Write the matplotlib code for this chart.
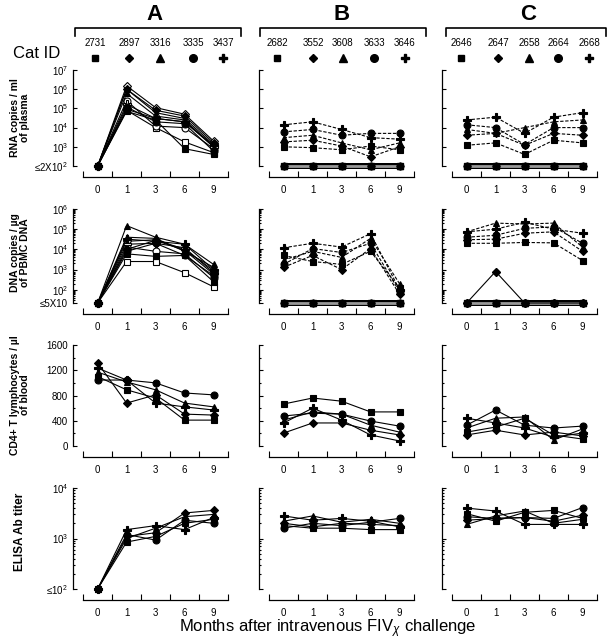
import numpy as np
import matplotlib
matplotlib.use('Agg')
import matplotlib.pyplot as plt
from matplotlib.lines import Line2D

plt.rcParams['font.family'] = ['Liberation Sans', 'DejaVu Sans']
plt.rcParams['mathtext.fontset'] = 'custom'
plt.rcParams['mathtext.rm'] = 'Liberation Sans'
plt.rcParams['mathtext.it'] = 'Liberation Sans:italic'

# x categories
months = ['0', '1', '3', '6', '9']
markers = ['s', 'D', '^', 'o', 'P']
msizes = [4.5, 4, 5, 5, 5.5]

cats_A = ['2731', '2897', '3316', '3335', '3437']
cats_B = ['2682', '3552', '3608', '3633', '3646']
cats_C = ['2646', '2647', '2658', '2664', '2668']

# plotted positions of the detection limits
rna_lod = 1e2
dna_lod = 22
elisa_lod = 1e2

# RNA copies / ml plasma (square, diamond, triangle, circle, plus)
rna_A_filled = [[1e2, 7e4, 2.5e4, 8e2, 4e2],
                [1e2, 1e6, 8e4, 4e4, 1.6e3],
                [1e2, 6e5, 4e4, 2.5e4, 1e3],
                [1e2, 1.2e5, 2e4, 1.6e4, 6e2],
                [1e2, 9e4, 3e4, 2e4, 1.2e3]]
rna_A_open = [[1e2, 8e4, 1e4, 1.8e3, 5e2],
              [1e2, 1.5e6, 1.1e5, 5e4, 2e3],
              [1e2, 1e6, 6e4, 3e4, 1.3e3],
              [1e2, 2.5e5, 1.2e4, 1e4, 8e2],
              [1e2, 1.6e5, 3e4, 2e4, 1e3]]
rna_B = [[1e3, 9e2, 7e2, 1.1e3, 7e2],
         [1.8e3, 2.2e3, 1.1e3, 3e2, 1e3],
         [3e3, 4e3, 1.6e3, 7e2, 1.6e3],
         [6e3, 8e3, 4e3, 5e3, 5e3],
         [1.4e4, 2e4, 8e3, 3e3, 2.5e3]]
rna_C = [[1.2e3, 1.6e3, 4e2, 2.2e3, 1.6e3],
         [4e3, 5e3, 1.2e3, 5e3, 4e3],
         [8e3, 5e3, 1e4, 2e4, 2.5e4],
         [1.4e4, 1e4, 1.3e3, 1e4, 1e4],
         [2.5e4, 3.5e4, 5e3, 3.5e4, 6e4]]
rna_BC_undet = [1e2, 1e2, 1e2, 1e2, 1e2]

# DNA copies / ug PBMC DNA
dna_A_filled = [[22, 6e3, 4.5e3, 5e3, 2.5e2],
                [22, 1e4, 2.8e4, 9e3, 6e2],
                [22, 1.5e5, 4e4, 1.8e4, 1.8e3],
                [22, 8e3, 2e4, 5e3, 5e2],
                [22, 3.2e4, 2.5e4, 1.8e4, 1e3]]
dna_A_open = [[22, 2.5e3, 2.5e3, 7e2, 1.4e2],
              [22, 2.5e4, 3e4, 1e4, 9e2],
              [22, 4e4, 3.5e4, 8e3, 1.3e3],
              [22, 1.3e4, 8e3, 6e3, 4e2],
              [22, 1.8e4, 2e4, 1.2e4, 7e2]]
dna_B = [[5e3, 2.5e3, 1.8e3, 8e3, 1.2e2],
         [1.3e3, 5e3, 1e3, 1.1e4, 60],
         [3e3, 8e3, 4e3, 3.5e4, 2e2],
         [1.8e3, 1.1e4, 7e3, 2e4, 80],
         [1.2e4, 2e4, 1.3e4, 6e4, 1e2]]
dna_C = [[2e4, 2e4, 2.2e4, 2.1e4, 2.8e3],
         [3e4, 3.2e4, 6.3e4, 7.4e4, 8e3],
         [7.4e4, 2e5, 1.8e5, 2e5, 1.3e4],
         [4e4, 5e4, 1.1e5, 1.3e5, 2e4],
         [7.4e4, 1e5, 2.2e5, 1e5, 6.3e4]]
dna_BC_undet = [22, 22, 22, 22, 22]
dna_C_2647_open = [22, 8e2, 22, 22, 22]

# CD4+ T lymphocytes / ul blood
cd4_A = [[1100, 890, 760, 410, 410],
         [1315, 680, 810, 505, 490],
         [1170, 1015, 890, 680, 620],
         [1045, 1045, 1000, 840, 810],
         [1235, 1045, 680, 620, 570]]
cd4_B = [[665, 760, 710, 540, 540],
         [205, 365, 365, 250, 175],
         [410, 540, 505, 330, 220],
         [475, 520, 505, 395, 315],
         [365, 600, 410, 175, 80]]
cd4_C = [[220, 300, 440, 175, 110],
         [175, 250, 175, 220, 160],
         [285, 440, 460, 95, 270],
         [330, 570, 330, 285, 315],
         [440, 365, 285, 140, 205]]

# ELISA Ab titer
elisa_A = [[1e2, 850, 1100, 2000, 2400],
           [1e2, 1100, 1300, 3200, 3600],
           [1e2, 1000, 1600, 2700, 3000],
           [1e2, 1200, 930, 2300, 2000],
           [1e2, 1500, 1800, 1500, 2600]]
elisa_B = [[1800, 1600, 1600, 1500, 1500],
           [2000, 1700, 2000, 1900, 1800],
           [2200, 2800, 2100, 2400, 2000],
           [1600, 2000, 1800, 2100, 2500],
           [2800, 2300, 2500, 2200, 1700]]
elisa_C = [[3100, 2200, 3300, 3600, 2500],
           [2300, 2500, 2600, 2200, 2900],
           [1900, 2800, 3500, 2000, 2400],
           [2700, 2500, 2600, 2500, 4100],
           [4000, 3500, 1900, 1900, 1900]]

W, H = 608, 641
fig = plt.figure(figsize=(W / 100, H / 100), dpi=100)


def fx(x):
    return x / W


def fy(y):
    return 1 - y / H


col_left = [73, 259, 442]
col_width = 155
rows = [(70, 166), (209, 303), (345, 446), (488, 589)]
x = np.arange(5)


def make_ax(r, c):
    top, bot = rows[r]
    ax = fig.add_axes([fx(col_left[c]), fy(bot), col_width / W, (bot - top) / H])
    ax.set_xlim(-0.85, 4.5)
    for s in ['top', 'right']:
        ax.spines[s].set_visible(False)
    ax.spines['bottom'].set_position(('outward', 8))
    ax.spines['bottom'].set_bounds(-0.5, 4.5)
    ax.spines['bottom'].set_linewidth(0.9)
    ax.spines['left'].set_linewidth(0.9)
    ax.set_xticks(x)
    ax.set_xticklabels(months, fontsize=7)
    ax.set_xticks(np.arange(-0.5, 5, 1), minor=True)
    ax.tick_params(axis='x', which='major', length=0, pad=6)
    ax.tick_params(axis='x', which='minor', length=4, direction='in', width=0.8)
    ax.tick_params(axis='y', which='both', direction='in', labelsize=7, width=0.8)
    ax.tick_params(axis='y', which='major', length=3)
    ax.tick_params(axis='y', which='minor', length=1.5)
    ax.patch.set_visible(False)
    return ax


def draw(ax, series, filled=True, ls='-', lw=0.8):
    for i, vals in enumerate(series):
        ax.plot(x, vals, color='k', lw=lw, ls=ls, marker=markers[i], ms=msizes[i],
                mfc='k' if filled else 'white', mec='k', mew=0.8, clip_on=False,
                dashes=(3, 1.5) if ls == '--' else (None, None), zorder=3)


def draw_band(ax, vals):
    for i in range(5):
        ax.plot(x, vals, color='k', lw=4, clip_on=False, zorder=2, solid_capstyle='butt')
        ax.plot(x, vals, color='0.6', lw=2, clip_on=False, zorder=2, solid_capstyle='butt')
    for i in range(5):
        ax.plot(x, vals, ls='none', marker=markers[i], ms=msizes[i] - 0.5, mfc='k', mec='k',
                clip_on=False, zorder=3)


# row 1: RNA
for c in range(3):
    ax = make_ax(0, c)
    ax.set_yscale('log')
    ax.set_ylim(rna_lod, 1e7)
    ax.set_yticks([1e2, 1e3, 1e4, 1e5, 1e6, 1e7])
    if c == 0:
        ax.set_yticklabels(['≤2X10$^2$', '$10^3$', '$10^4$', '$10^5$', '$10^6$', '$10^7$'])
        draw(ax, rna_A_open, filled=False)
        draw(ax, rna_A_filled)
    else:
        ax.set_yticklabels([])
        draw_band(ax, rna_BC_undet)
        draw(ax, rna_B if c == 1 else rna_C, ls='--')

# row 2: DNA
for c in range(3):
    ax = make_ax(1, c)
    ax.set_yscale('log')
    ax.set_ylim(dna_lod, 1e6)
    ax.set_yticks([dna_lod, 1e2, 1e3, 1e4, 1e5, 1e6])
    if c == 0:
        ax.set_yticklabels(['≤5X10', '$10^2$', '$10^3$', '$10^4$', '$10^5$', '$10^6$'])
        draw(ax, dna_A_open, filled=False)
        draw(ax, dna_A_filled)
    else:
        ax.set_yticklabels([])
        draw_band(ax, dna_BC_undet)
        if c == 2:
            ax.plot(x, dna_C_2647_open, color='k', lw=0.8, marker='D', ms=4, mfc='k',
                    mec='k', clip_on=False, zorder=3)
        draw(ax, dna_B if c == 1 else dna_C, ls='--')

# row 3: CD4
for c in range(3):
    ax = make_ax(2, c)
    ax.set_ylim(0, 1600)
    ax.set_yticks([0, 400, 800, 1200, 1600])
    ax.set_yticks(np.arange(0, 1601, 200), minor=True)
    if c == 0:
        ax.set_yticklabels(['0', '400', '800', '1200', '1600'])
    else:
        ax.set_yticklabels([])
    draw(ax, [cd4_A, cd4_B, cd4_C][c])

# row 4: ELISA
for c in range(3):
    ax = make_ax(3, c)
    ax.set_yscale('log')
    ax.set_ylim(elisa_lod, 1e4)
    ax.set_yticks([1e2, 1e3, 1e4])
    if c == 0:
        ax.set_yticklabels(['≤10$^2$', '$10^3$', '$10^4$'])
    else:
        ax.set_yticklabels([])
    draw(ax, [elisa_A, elisa_B, elisa_C][c])

# y labels
ylabs = [('RNA copies / ml\nof plasma', 118, 7.5), ('DNA copies / µg\nof PBMC DNA', 253, 7.5),
         ('CD4+ T lymphocytes / µl\nof blood', 395, 7.5), ('ELISA Ab titer', 532, 8.5)]
for txt, yy, fs in ylabs:
    fig.text(fx(20), fy(yy), txt, rotation=90, ha='center', va='center',
             fontsize=fs, fontweight='bold', linespacing=1.1)

# header: group letters, brackets, cat ids, symbols
heads = ['A', 'B', 'C']
head_x = [155, 342, 528]
brackets = [(75, 241), (260, 426), (446, 606)]
id_x = [[95, 129, 160, 193, 223], [277, 313, 343, 374, 405], [461, 498, 529, 558, 589]]
for c, cats in enumerate([cats_A, cats_B, cats_C]):
    fig.text(fx(head_x[c]), fy(14), heads[c], ha='center', va='center',
             fontsize=16, fontweight='bold')
    x1, x2 = brackets[c]
    fig.add_artist(Line2D([fx(x1), fx(x1), fx(x2), fx(x2)], [fy(36), fy(28), fy(28), fy(36)],
                          transform=fig.transFigure, color='k', lw=1.2))
    for i, cid in enumerate(cats):
        fig.text(fx(id_x[c][i]), fy(43), cid, ha='center', va='center', fontsize=7)
        fig.add_artist(Line2D([fx(id_x[c][i])], [fy(58)], marker=markers[i], ms=msizes[i] + 0.5,
                              color='k', transform=fig.transFigure))
fig.text(fx(37), fy(54), 'Cat ID', ha='center', va='center', fontsize=12)

fig.text(fx(328), fy(629), r'Months after intravenous FIV$_\chi$ challenge',
         ha='center', va='center', fontsize=12)

fig.savefig('out.png', dpi=100)
